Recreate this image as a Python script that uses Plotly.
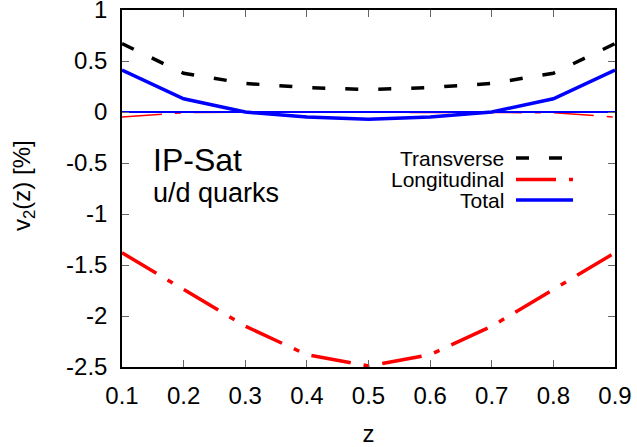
import plotly.graph_objects as go

z = [0.1, 0.2, 0.3, 0.4, 0.5, 0.6, 0.7, 0.8, 0.9]
transverse = [0.67, 0.38, 0.28, 0.24, 0.22, 0.24, 0.28, 0.38, 0.67]
longitudinal = [-1.38, -1.74, -2.10, -2.38, -2.49, -2.38, -2.10, -1.74, -1.38]
total = [0.41, 0.13, 0.0, -0.05, -0.07, -0.05, 0.0, 0.13, 0.41]
# near-zero companion curves
transverse_b = [0.0, 0.0, 0.0, 0.0, 0.0, 0.0, 0.0, 0.0, 0.0]
longitudinal_b = [-0.05, -0.007, 0.0, 0.0, 0.0, 0.0, 0.0, -0.007, -0.05]
total_b = [0.0, 0.0, 0.0, 0.0, 0.0, 0.0, 0.0, 0.0, 0.0]

x_ticks = [0.1, 0.2, 0.3, 0.4, 0.5, 0.6, 0.7, 0.8, 0.9]
x_labels = ["0.1", "0.2", "0.3", "0.4", "0.5", "0.6", "0.7", "0.8", "0.9"]
y_ticks = [-2.5, -2, -1.5, -1, -0.5, 0, 0.5, 1]
y_labels = ["-2.5", "-2", "-1.5", "-1", "-0.5", "0", "0.5", "1"]
legend_names = ["Transverse", "Longitudinal", "Total"]

FONT = "Liberation Sans, Arial, sans-serif"
T_DASH = "13px,20px"
L_DASH = "40px,13px,6px,13px"

fig = go.Figure()
fig.add_trace(go.Scatter(x=z, y=transverse_b, mode="lines",
                         line=dict(color="#444444", width=1.5, dash=T_DASH), showlegend=False))
fig.add_trace(go.Scatter(x=z, y=longitudinal_b, mode="lines",
                         line=dict(color="red", width=1.5, dash=L_DASH), showlegend=False))
fig.add_trace(go.Scatter(x=z, y=total_b, mode="lines",
                         line=dict(color="blue", width=2), showlegend=False))
fig.add_trace(go.Scatter(x=z, y=transverse, mode="lines", name=legend_names[0],
                         line=dict(color="black", width=3.5, dash=T_DASH), showlegend=False))
fig.add_trace(go.Scatter(x=z, y=longitudinal, mode="lines", name=legend_names[1],
                         line=dict(color="red", width=3.5, dash=L_DASH), showlegend=False))
fig.add_trace(go.Scatter(x=z, y=total, mode="lines", name=legend_names[2],
                         line=dict(color="blue", width=3.5), showlegend=False))

# plot area: x 122..615, y 10..367 (px)
L, R, T, B = 122, 615, 10, 367
def px(xp):
    return (xp - L) / (R - L)
def py(yp):
    return (B - yp) / (B - T)

# custom legend: text right-aligned, sample on the right (gnuplot style)
leg_y = [158, 179.5, 200]
styles = [dict(color="black", width=3.5, dash=T_DASH),
          dict(color="red", width=3.5, dash=L_DASH),
          dict(color="blue", width=3.5)]
annotations = []
shapes = []
for name, yy, st in zip(legend_names, leg_y, styles):
    annotations.append(dict(x=px(503), y=py(yy), xref="paper", yref="paper", text=name,
                            showarrow=False, xanchor="right", yanchor="middle",
                            xshift=3,
                            font=dict(family=FONT, size=21, color="black")))
    shapes.append(dict(type="line", xref="paper", yref="paper",
                       x0=px(516), x1=px(573), y0=py(yy), y1=py(yy), line=st))

annotations.append(dict(x=px(151), y=py(160), xref="paper", yref="paper", text="IP-Sat",
                        showarrow=False, xanchor="left", yanchor="middle",
                        font=dict(family=FONT, size=32, color="black")))
annotations.append(dict(x=px(151), y=py(193), xref="paper", yref="paper", text="u/d quarks",
                        showarrow=False, xanchor="left", yanchor="middle",
                        font=dict(family=FONT, size=27, color="black")))
# y-axis title
annotations.append(dict(x=px(23), y=py(186), xref="paper", yref="paper",
                        text="v<sub>2</sub>(z) [%]", textangle=-90,
                        showarrow=False, xanchor="center", yanchor="middle",
                        font=dict(family=FONT, size=24, color="black")))

fig.update_layout(
    width=637, height=447,
    margin=dict(l=L, r=637 - R, t=T, b=447 - B),
    paper_bgcolor="white", plot_bgcolor="white",
    font=dict(family=FONT, size=24, color="black"),
    annotations=annotations, shapes=shapes,
    xaxis=dict(range=[0.1, 0.9], tickvals=x_ticks, ticktext=x_labels,
               ticks="inside", ticklen=7, tickcolor="#666666", tickwidth=1,
               showline=True, linecolor="black", linewidth=1.5, mirror="allticks",
               showgrid=False, zeroline=False, automargin=False,
               ticklabelstandoff=6, ticklabeloverflow="allow",
               title=dict(text="z", font=dict(size=24), standoff=20)),
    yaxis=dict(range=[-2.5, 1.0], tickvals=y_ticks, ticktext=y_labels,
               ticks="inside", ticklen=7, tickcolor="#666666", tickwidth=1,
               showline=True, linecolor="black", linewidth=1.5, mirror="allticks",
               showgrid=False, zeroline=False, automargin=False,
               ticklabelstandoff=8, ticklabeloverflow="allow"),
)

fig.write_html("out.html", config={"displayModeBar": False},
               post_script="document.body.style.margin='0';document.body.style.overflow='hidden';")
